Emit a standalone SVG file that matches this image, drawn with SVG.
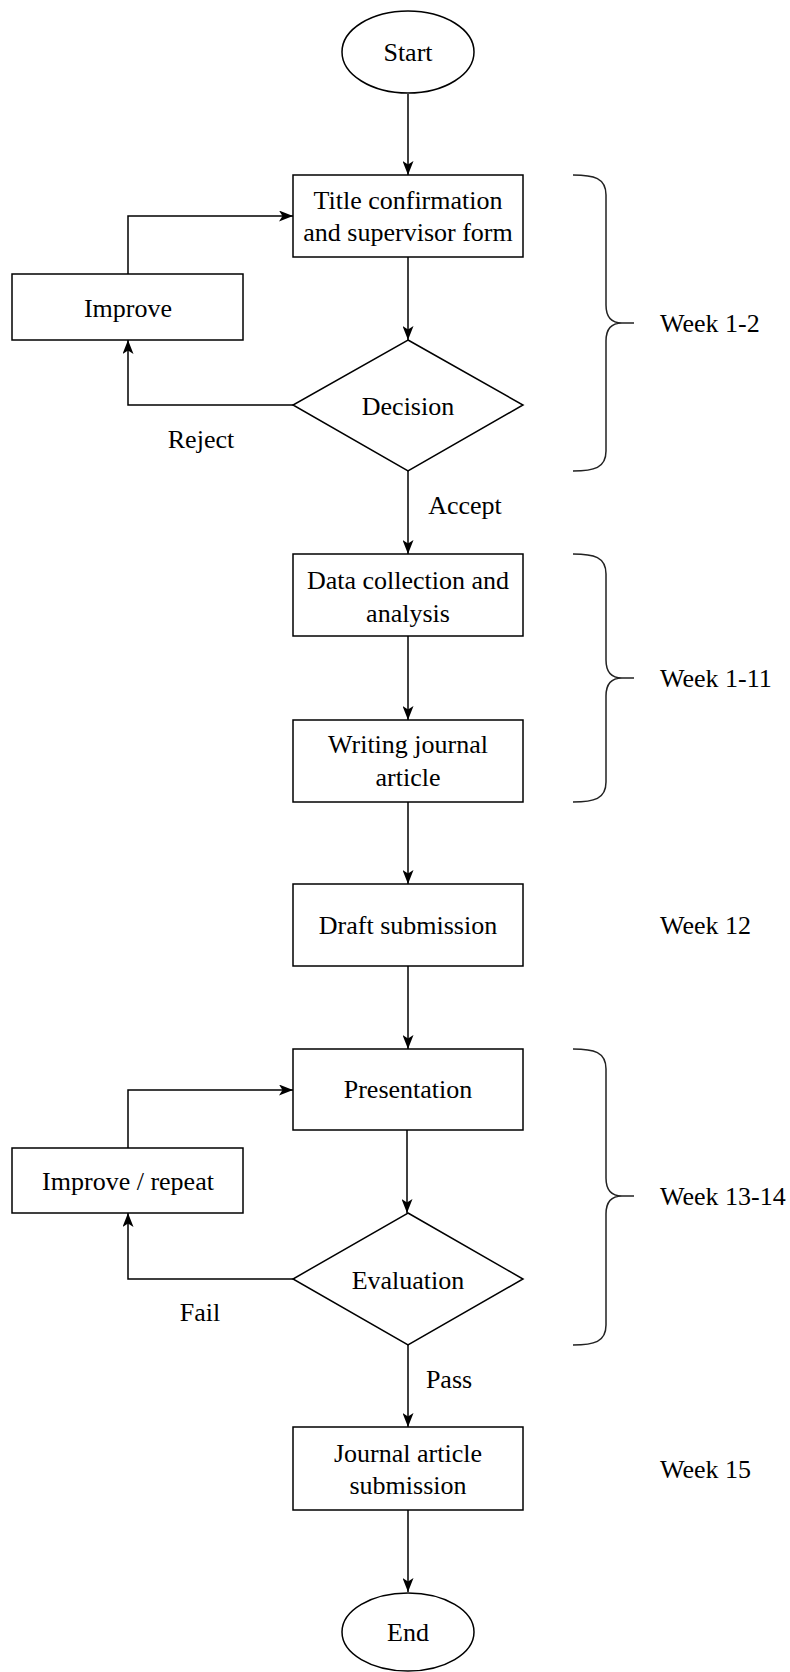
<svg xmlns="http://www.w3.org/2000/svg" width="790" height="1672" viewBox="0 0 790 1672">
<style>
.n{fill:#fff;stroke:#000;stroke-width:1.5}
.t{font-family:"Liberation Serif","Times New Roman",serif;font-size:26px;fill:#000;text-anchor:middle}
.w{text-anchor:start}
.e{fill:none;stroke:#000;stroke-width:1.5}
.b{fill:none;stroke:#222;stroke-width:1.5}
</style>
<defs>
<marker id="a" viewBox="0 0 14 11" refX="14" refY="5.5" markerWidth="14" markerHeight="11" orient="auto" markerUnits="userSpaceOnUse">
<path d="M0,0 L14,5.5 L0,11 L3.5,5.5 z" fill="#000"/>
</marker>
</defs>
<rect width="790" height="1672" fill="#fff"/>
<g id="connectors">
<path class="e" d="M408,94 V175" marker-end="url(#a)"/>
<path class="e" d="M408,257 V340" marker-end="url(#a)"/>
<path class="e" d="M293,405 H128 V340" marker-end="url(#a)"/>
<path class="e" d="M128,274 V216 H293" marker-end="url(#a)"/>
<path class="e" d="M408,471 V554" marker-end="url(#a)"/>
<path class="e" d="M408,636 V720" marker-end="url(#a)"/>
<path class="e" d="M408,802 V884" marker-end="url(#a)"/>
<path class="e" d="M408,966 V1049" marker-end="url(#a)"/>
<path class="e" d="M407,1130 V1213" marker-end="url(#a)"/>
<path class="e" d="M293,1279 H128 V1213" marker-end="url(#a)"/>
<path class="e" d="M128,1148 V1090 H293" marker-end="url(#a)"/>
<path class="e" d="M408,1345 V1427" marker-end="url(#a)"/>
<path class="e" d="M408,1510 V1592" marker-end="url(#a)"/>
<text class="t" x="201" y="448">Reject</text>
<text class="t" x="465" y="514">Accept</text>
<text class="t" x="200" y="1321">Fail</text>
<text class="t" x="449" y="1388">Pass</text>
</g>
<g id="start"><ellipse class="n" cx="408" cy="52" rx="66" ry="41"/><text class="t" x="408" y="61">Start</text></g>
<g id="title"><rect class="n" x="293" y="175" width="230" height="82"/><text class="t" x="408" y="209">Title confirmation</text><text class="t" x="408" y="241">and supervisor form</text></g>
<g id="improve"><rect class="n" x="12" y="274" width="231" height="66"/><text class="t" x="128" y="317">Improve</text></g>
<g id="decision"><polygon class="n" points="408,340 523,405 408,471 293,405"/><text class="t" x="408" y="415">Decision</text></g>
<g id="data"><rect class="n" x="293" y="554" width="230" height="82"/><text class="t" x="408" y="589">Data collection and</text><text class="t" x="408" y="622">analysis</text></g>
<g id="writing"><rect class="n" x="293" y="720" width="230" height="82"/><text class="t" x="408" y="753">Writing journal</text><text class="t" x="408" y="786">article</text></g>
<g id="draft"><rect class="n" x="293" y="884" width="230" height="82"/><text class="t" x="408" y="934">Draft submission</text></g>
<g id="presentation"><rect class="n" x="293" y="1049" width="230" height="81"/><text class="t" x="408" y="1098">Presentation</text></g>
<g id="improve-repeat"><rect class="n" x="12" y="1148" width="231" height="65"/><text class="t" x="128" y="1190">Improve / repeat</text></g>
<g id="evaluation"><polygon class="n" points="408,1213 523,1279 408,1345 293,1279"/><text class="t" x="408" y="1289">Evaluation</text></g>
<g id="journal"><rect class="n" x="293" y="1427" width="230" height="83"/><text class="t" x="408" y="1462">Journal article</text><text class="t" x="408" y="1494">submission</text></g>
<g id="end"><ellipse class="n" cx="408" cy="1632" rx="66" ry="39"/><text class="t" x="408" y="1641">End</text></g>
<g id="brace1"><path class="b" d="M573,175 C594,175 606,178 606,195 V305 C606,318 612,323 622,323 H634 M622,323 C612,323 606,328 606,341 V451 C606,468 594,471 573,471"/><text class="t w" x="660" y="332">Week 1-2</text></g>
<g id="brace2"><path class="b" d="M573,554 C594,554 606,557 606,574 V660 C606,673 612,678 622,678 H634 M622,678 C612,678 606,683 606,696 V782 C606,799 594,802 573,802"/><text class="t w" x="660" y="687">Week 1-11</text></g>
<g id="week12"><text class="t w" x="660" y="934">Week 12</text></g>
<g id="brace3"><path class="b" d="M573,1049 C594,1049 606,1052 606,1069 V1178 C606,1191 612,1196 622,1196 H634 M622,1196 C612,1196 606,1201 606,1214 V1325 C606,1342 594,1345 573,1345"/><text class="t w" x="660" y="1205">Week 13-14</text></g>
<g id="week15"><text class="t w" x="660" y="1478">Week 15</text></g>
</svg>
